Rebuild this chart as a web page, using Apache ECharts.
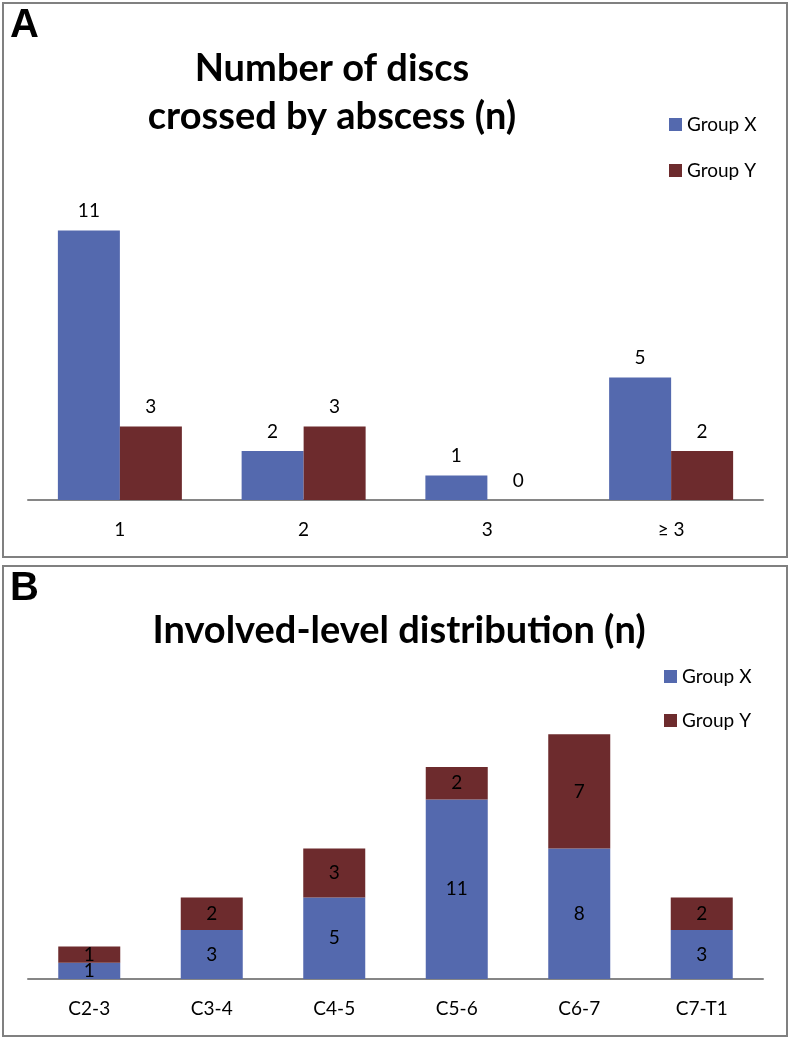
<!DOCTYPE html>
<html>
<head>
<meta charset="utf-8">
<script src="https://cdn.jsdelivr.net/npm/echarts@6/dist/echarts.min.js"></script>
<style>
    html, body { margin: 0; padding: 0; background: #fff; }
    #chart { width: 791px; height: 1041px; }
</style>
</head>
<body>
<div id="chart"></div>
<script>
// panel A: number of discs crossed by abscess
var discCats = ['1', '2', '3', '≥ 3'];
var discX = [11, 2, 1, 5];
var discY = [3, 3, 0, 2];

// panel B: involved-level distribution
var levelCats = ['C2-3', 'C3-4', 'C4-5', 'C5-6', 'C6-7', 'C7-T1'];
var levelX = [1, 3, 5, 11, 8, 3];
var levelY = [1, 2, 3, 2, 7, 2];

var blue = '#5469ae';
var red = '#6d2b2d';
var font = 'Lato';
var fs = 19;

var ec = echarts.init(document.getElementById('chart'));

function labelTop() {
    return { show: true, position: 'top', distance: 10, color: '#000', fontSize: fs, fontFamily: font };
}
function labelIn() {
    return { show: true, position: 'inside', color: '#000', fontSize: fs, fontFamily: font };
}
function catAxis(idx, data) {
    return {
        type: 'category',
        gridIndex: idx,
        data: data,
        axisTick: { show: false },
        axisLine: { lineStyle: { color: '#868686', width: 2 } },
        axisLabel: { color: '#000', fontSize: fs, fontFamily: font, margin: 20 }
    };
}
function valAxis(idx, max) {
    return { type: 'value', gridIndex: idx, min: 0, max: max, show: false };
}
function legendAt(left, top, gap) {
    return {
        left: left,
        top: top,
        padding: 0,
        orient: 'vertical',
        icon: 'rect',
        itemWidth: 13,
        itemHeight: 13,
        itemGap: gap,
        textStyle: { fontFamily: font, fontSize: fs, color: '#000' },
        data: ['Group X', 'Group Y']
    };
}

ec.setOption({
    animation: false,
    graphic: [
        { type: 'rect', shape: { x: 3, y: 3, width: 784, height: 554 }, style: { fill: 'none', stroke: '#808080', lineWidth: 2 } },
        { type: 'rect', shape: { x: 3, y: 566, width: 784, height: 470 }, style: { fill: 'none', stroke: '#808080', lineWidth: 2 } },
        { type: 'text', left: 10, top: 6, style: { text: 'A', font: 'bold 40px "Liberation Sans"', fill: '#000' } },
        { type: 'text', left: 10, top: 569, style: { text: 'B', font: 'bold 40px "Liberation Sans"', fill: '#000' } }
    ],
    title: [
        {
            text: 'Number of discs\ncrossed by abscess (n)',
            left: 327,
            top: 40,
            textAlign: 'center',
            textStyle: { fontFamily: font, fontWeight: 'bold', fontSize: 38, lineHeight: 48, color: '#000' }
        },
        {
            text: 'Involved-level distribution (n)',
            left: 394,
            top: 607,
            textAlign: 'center',
            textStyle: { fontFamily: font, fontWeight: 'bold', fontSize: 38, color: '#000' }
        }
    ],
    legend: [legendAt(669, 115, 27), legendAt(664, 667, 25)],
    grid: [
        { left: 28, right: 28, top: 206, height: 294 },
        { left: 28, right: 28, top: 718, height: 261 }
    ],
    xAxis: [catAxis(0, discCats), catAxis(1, levelCats)],
    yAxis: [valAxis(0, 12), valAxis(1, 16)],
    series: [
        {
            name: 'Group X', type: 'bar', xAxisIndex: 0, yAxisIndex: 0,
            data: discX, barWidth: 62, barGap: '0%',
            itemStyle: { color: blue }, label: labelTop()
        },
        {
            name: 'Group Y', type: 'bar', xAxisIndex: 0, yAxisIndex: 0,
            data: discY, barWidth: 62, barGap: '0%',
            itemStyle: { color: red }, label: labelTop()
        },
        {
            name: 'Group X', type: 'bar', xAxisIndex: 1, yAxisIndex: 1, stack: 'lv',
            data: levelX, barWidth: 62,
            itemStyle: { color: blue }, label: labelIn()
        },
        {
            name: 'Group Y', type: 'bar', xAxisIndex: 1, yAxisIndex: 1, stack: 'lv',
            data: levelY, barWidth: 62,
            itemStyle: { color: red }, label: labelIn()
        }
    ]
});
</script>
</body>
</html>
